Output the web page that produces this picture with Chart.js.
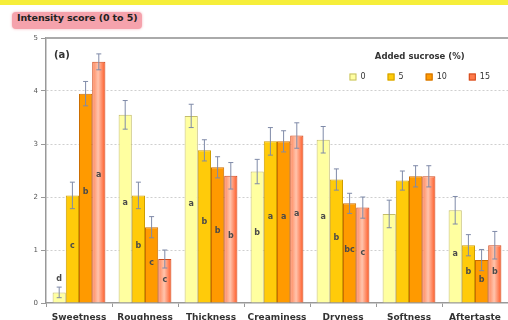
<!DOCTYPE html>
<html>
<head>
<meta charset="utf-8">
<script src="https://cdn.jsdelivr.net/npm/chart.js@4.4.0/dist/chart.umd.min.js"></script>
<style>
  html, body { margin: 0; padding: 0; background: #fff; overflow: hidden; }
  #wrap { position: relative; width: 508px; height: 320px; overflow: hidden; }
  #band { position: absolute; left: 0; top: 0; width: 508px; height: 5px; background: #f6ee3a; }
  #tag { position: absolute; left: 12px; top: 12px; height: 17px; padding: 0 5px; line-height: 17px;
         background: #f5a2ac; border-radius: 4px; box-shadow: 0 0 3px #f3b6bd;
         font: bold 9.5px "DejaVu Sans", sans-serif; color: #222; letter-spacing: -0.1px; }
  canvas { position: absolute; left: 0; top: 0; }
</style>
</head>
<body>
<div id="wrap">
  <div id="band"></div>
  <div id="tag">Intensity score (0 to 5)</div>
  <canvas id="c" width="508" height="334"></canvas>
</div>
<script>
// attributes on the x axis, sucrose levels in the legend
const attributes = ['Sweetness', 'Roughness', 'Thickness', 'Creaminess', 'Dryness', 'Softness', 'Aftertaste'];
const sucrose = ['0', '5', '10', '15'];
const yTicks = [0, 1, 2, 3, 4, 5];

// mean scores
const score0  = [0.2, 3.55, 3.53, 2.48, 3.08, 1.68, 1.75];
const score5  = [2.03, 2.03, 2.88, 3.05, 2.33, 2.31, 1.09];
const score10 = [3.95, 1.43, 2.56, 3.05, 1.88, 2.39, 0.81];
const score15 = [4.55, 0.83, 2.4, 3.16, 1.8, 2.39, 1.09];

// error bars (+/-)
const err0  = [0.1, 0.27, 0.22, 0.23, 0.25, 0.26, 0.26];
const err5  = [0.25, 0.25, 0.2, 0.26, 0.2, 0.18, 0.2];
const err10 = [0.23, 0.2, 0.2, 0.2, 0.19, 0.2, 0.2];
const err15 = [0.15, 0.17, 0.25, 0.24, 0.2, 0.2, 0.26];

// significance letters
const letters0  = ['d', 'a', 'a', 'b', 'a', '', 'a'];
const letters5  = ['c', 'b', 'b', 'a', 'b', '', 'b'];
const letters10 = ['b', 'c', 'b', 'a', 'bc', '', 'b'];
const letters15 = ['a', 'c', 'b', 'a', 'c', '', 'b'];

Chart.defaults.font.family = '"DejaVu Sans", sans-serif';

const marks = {
  id: 'marks',
  beforeDatasetDraw(chart, args) {
    if (args.index !== 3) return;
    const c = chart.ctx;
    args.meta.data.forEach(el => {
      const p = el.getProps(['x', 'width'], true);
      const g = c.createLinearGradient(p.x - p.width / 2, 0, p.x + p.width / 2, 0);
      g.addColorStop(0, '#ff8558');
      g.addColorStop(0.45, '#ffc4ad');
      g.addColorStop(1, '#ff5722');
      el.options = Object.assign({}, el.options, { backgroundColor: g });
    });
  },
  afterDatasetsDraw(chart) {
    const c = chart.ctx, ys = chart.scales.y;
    c.save();
    chart.data.datasets.forEach((ds, i) => {
      chart.getDatasetMeta(i).data.forEach((el, j) => {
        const v = ds.data[j], e = ds.errors[j];
        const x = el.x;
        const yt = ys.getPixelForValue(v + e), yb = ys.getPixelForValue(Math.max(0, v - e));
        c.strokeStyle = '#7f8aa8';
        c.lineWidth = 1;
        c.beginPath();
        c.moveTo(x, yt); c.lineTo(x, yb);
        c.moveTo(x - 2.5, yt); c.lineTo(x + 2.5, yt);
        c.moveTo(x - 2.5, yb); c.lineTo(x + 2.5, yb);
        c.stroke();
        const t = ds.letters[j];
        if (t) {
          c.fillStyle = '#4a4a4a';
          c.font = 'bold 8px "DejaVu Sans", sans-serif';
          c.textAlign = 'center';
          c.textBaseline = 'middle';
          c.fillText(t, x, ys.getPixelForValue(v < 0.5 ? v + 0.25 : v * 0.53));
        }
      });
    });
    c.restore();
  },
  afterDraw(chart) {
    const c = chart.ctx, a = chart.chartArea;
    c.save();
    // frame line on top of the plot
    c.strokeStyle = '#aaaaaa';
    c.lineWidth = 2;
    c.beginPath();
    c.moveTo(a.left, a.top);
    c.lineTo(a.right, a.top);
    c.stroke();
    // panel label
    c.fillStyle = '#333';
    c.font = 'bold 10px "DejaVu Sans", sans-serif';
    c.textBaseline = 'middle';
    c.textAlign = 'left';
    c.fillText('(a)', a.left + 8, a.top + 17);
    // legend, right aligned inside the plot
    const box = 7, gap = 4, pad = 22;
    c.font = '8px "DejaVu Sans", sans-serif';
    const items = chart.data.datasets.map(ds => ({ ds, w: box + gap + c.measureText(ds.label).width }));
    const total = items.reduce((s, it) => s + it.w + pad, 0) - pad;
    let x = a.right - 18 - total;
    const rowY = a.top + 39;
    const mid = x + total / 2;
    items.forEach(it => {
      c.fillStyle = it.ds.backgroundColor;
      c.fillRect(x, rowY - box / 2, box, box);
      c.strokeStyle = it.ds.borderColor;
      c.lineWidth = 1;
      c.strokeRect(x + 0.5, rowY - box / 2 + 0.5, box - 1, box - 1);
      c.fillStyle = '#333';
      c.fillText(it.ds.label, x + box + gap, rowY);
      x += it.w + pad;
    });
    c.font = 'bold 8.5px "DejaVu Sans", sans-serif';
    c.textAlign = 'center';
    c.fillText('Added sucrose (%)', mid, a.top + 19);
    c.restore();
  }
};

new Chart(document.getElementById('c'), {
  type: 'bar',
  data: {
    labels: attributes,
    datasets: [
      { label: sucrose[0], data: score0, errors: err0, letters: letters0, backgroundColor: '#ffffa0', borderColor: '#c4bd6a', borderWidth: 1 },
      { label: sucrose[1], data: score5, errors: err5, letters: letters5, backgroundColor: '#ffcb0a', borderColor: '#cf9d00', borderWidth: 1 },
      { label: sucrose[2], data: score10, errors: err10, letters: letters10, backgroundColor: '#ff9a00', borderColor: '#cc6e00', borderWidth: 1 },
      { label: sucrose[3], data: score15, errors: err15, letters: letters15, backgroundColor: '#ff7a4a', borderColor: '#d04a1c', borderWidth: 1 }
    ]
  },
  options: {
    responsive: false,
    animation: false,
    layout: { padding: { top: 38, left: 0, right: 0, bottom: 0 } },
    datasets: { bar: { categoryPercentage: 0.8, barPercentage: 1.0 } },
    plugins: {
      tooltip: { enabled: false },
      legend: { display: false }
    },
    scales: {
      x: {
        afterFit(s) { s.height = 31; },
        grid: { display: true, drawOnChartArea: false, tickLength: 4, color: '#999', offset: true },
        border: { color: '#999', width: 1.5 },
        ticks: { padding: 5, color: '#333', font: { size: 9, weight: 'bold' }, maxRotation: 0, autoSkip: false }
      },
      y: {
        min: yTicks[0],
        max: yTicks[yTicks.length - 1],
        afterFit(s) { s.width = 46; },
        afterBuildTicks(s) { s.ticks = yTicks.map(v => ({ value: v })); },
        ticks: { padding: 3, color: '#555', font: { size: 7 } },
        grid: {
          color: ctx => (ctx.tick.value > 0 && ctx.tick.value < 5) ? '#cfcfcf' : 'rgba(0,0,0,0)',
          tickColor: '#999',
          tickLength: 5
        },
        border: { color: '#999', width: 1.5, dash: [2, 2] }
      }
    }
  },
  plugins: [marks]
});
</script>
</body>
</html>
